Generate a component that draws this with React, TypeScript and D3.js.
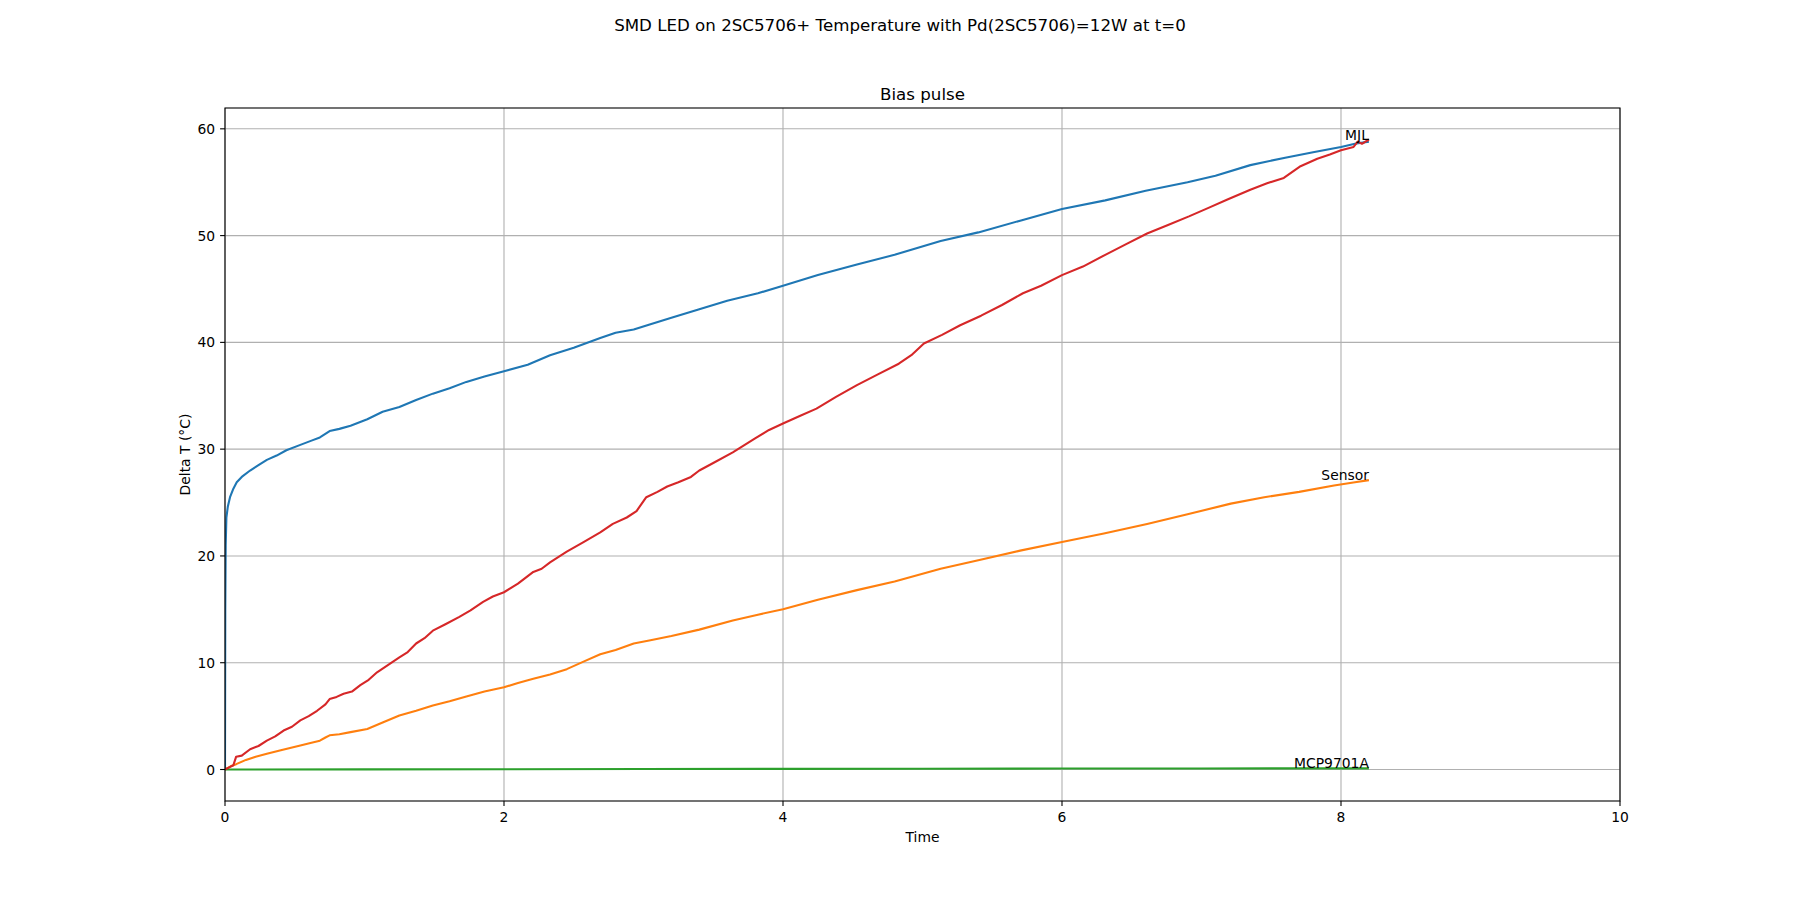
import { useEffect } from "react";
import * as d3 from "d3";

// readings, [time, delta T]
const mjlBlue: [number, number][] = [
  [0, 0], [0.002, 15], [0.005, 21], [0.01, 23.6], [0.02, 24.6], [0.036, 25.5], [0.06, 26.3],
  [0.084, 26.9], [0.12, 27.4], [0.18, 28.0], [0.24, 28.5], [0.3, 29.0], [0.37, 29.4], [0.44, 29.9],
  [0.54, 30.4], [0.62, 30.8], [0.68, 31.1], [0.75, 31.7], [0.82, 31.9], [0.9, 32.2], [1.02, 32.8],
  [1.13, 33.5], [1.25, 33.95], [1.37, 34.6], [1.49, 35.2], [1.61, 35.7], [1.73, 36.3], [1.86, 36.8],
  [2.0, 37.3], [2.17, 37.9], [2.33, 38.8], [2.5, 39.5], [2.69, 40.4], [2.8, 40.9], [2.93, 41.2],
  [3.05, 41.7], [3.2, 42.3], [3.4, 43.1], [3.6, 43.9], [3.82, 44.6], [4.0, 45.3], [4.25, 46.3],
  [4.53, 47.3], [4.8, 48.2], [5.13, 49.5], [5.4, 50.3], [5.7, 51.4], [6.0, 52.5], [6.31, 53.3],
  [6.6, 54.2], [6.9, 55.0], [7.1, 55.6], [7.35, 56.6], [7.6, 57.3], [7.8, 57.8], [8.0, 58.3],
  [8.1, 58.6], [8.2, 58.8],
];

const sensorOrange: [number, number][] = [
  [0, 0], [0.04, 0.3], [0.08, 0.5], [0.15, 0.9], [0.22, 1.2], [0.3, 1.47], [0.4, 1.8], [0.54, 2.25],
  [0.62, 2.5], [0.68, 2.7], [0.72, 3.0], [0.75, 3.2], [0.82, 3.3], [0.9, 3.5], [1.02, 3.8],
  [1.13, 4.4], [1.25, 5.06], [1.37, 5.5], [1.49, 6.0], [1.61, 6.4], [1.73, 6.84], [1.86, 7.3],
  [2.0, 7.7], [2.1, 8.1], [2.21, 8.5], [2.33, 8.9], [2.45, 9.4], [2.57, 10.1], [2.69, 10.8],
  [2.8, 11.2], [2.93, 11.8], [3.05, 12.1], [3.2, 12.5], [3.4, 13.1], [3.64, 13.96], [3.82, 14.5],
  [4.0, 15.0], [4.25, 15.9], [4.53, 16.8], [4.8, 17.6], [5.13, 18.8], [5.4, 19.6], [5.7, 20.5],
  [6.0, 21.3], [6.3, 22.1], [6.61, 23.0], [6.9, 23.9], [7.21, 24.9], [7.45, 25.5], [7.7, 26.0],
  [7.95, 26.6], [8.1, 26.9], [8.2, 27.1],
];

const mcpGreen: [number, number][] = [
  [0, 0], [1, 0.01], [2, 0.03], [3, 0.04], [4, 0.06], [5, 0.07], [6, 0.09], [7, 0.1], [8.2, 0.11],
];

const redTrace: [number, number][] = [
  [0, 0], [0.03, 0.2], [0.06, 0.4], [0.08, 1.2], [0.12, 1.3], [0.18, 1.9], [0.24, 2.2], [0.3, 2.7],
  [0.36, 3.1], [0.42, 3.65], [0.48, 4.0], [0.54, 4.6], [0.6, 5.0], [0.66, 5.5], [0.72, 6.1],
  [0.75, 6.6], [0.8, 6.8], [0.85, 7.1], [0.91, 7.3], [0.97, 7.9], [1.03, 8.4], [1.09, 9.1],
  [1.17, 9.8], [1.25, 10.5], [1.31, 11.0], [1.37, 11.8], [1.43, 12.3], [1.49, 13.0], [1.58, 13.6],
  [1.68, 14.3], [1.76, 14.9], [1.85, 15.7], [1.92, 16.2], [2.0, 16.6], [2.1, 17.4], [2.21, 18.5],
  [2.27, 18.8], [2.33, 19.4], [2.45, 20.4], [2.57, 21.3], [2.69, 22.2], [2.78, 23.0], [2.88, 23.6],
  [2.95, 24.2], [3.02, 25.5], [3.1, 26.0], [3.17, 26.5], [3.25, 26.9], [3.34, 27.4], [3.4, 28.0],
  [3.5, 28.7], [3.64, 29.7], [3.8, 31.0], [3.9, 31.8], [4.0, 32.4], [4.12, 33.1], [4.24, 33.8],
  [4.38, 34.9], [4.53, 36.0], [4.68, 37.0], [4.83, 38.0], [4.92, 38.8], [5.01, 39.9], [5.14, 40.7],
  [5.27, 41.6], [5.42, 42.5], [5.57, 43.5], [5.72, 44.6], [5.85, 45.3], [6.0, 46.3], [6.15, 47.1],
  [6.31, 48.2], [6.46, 49.2], [6.61, 50.2], [6.76, 51.0], [6.91, 51.8], [7.05, 52.6], [7.19, 53.4],
  [7.35, 54.3], [7.47, 54.9], [7.59, 55.4], [7.71, 56.5], [7.83, 57.2], [7.92, 57.6], [8.0, 58.0],
  [8.09, 58.3], [8.12, 58.8], [8.15, 58.6], [8.2, 59.0],
];

const xTicks = [0, 2, 4, 6, 8, 10];
const yTicks = [0, 10, 20, 30, 40, 50, 60];

const endLabels: { text: string; series: [number, number][] }[] = [
  { text: "MJL", series: redTrace },
  { text: "Sensor", series: sensorOrange },
  { text: "MCP9701A", series: mcpGreen },
];

const W = 1800;
const H = 900;
const m = { left: 225, right: 1620, top: 108, bottom: 801 };
const font = "'DejaVu Sans', sans-serif";

export default function App() {
  useEffect(() => {
    document.body.style.margin = "0";
  }, []);

  const x = d3.scaleLinear().domain([0, 10]).range([m.left, m.right]);
  const y = d3.scaleLinear().domain([-2.95, 61.95]).range([m.bottom, m.top]);

  const line = d3
    .line<[number, number]>()
    .x((d) => x(d[0]))
    .y((d) => y(d[1]));

  // drawn in matplotlib's cycle order, red last on top
  const traces = [
    { data: mjlBlue, color: "#1f77b4" },
    { data: sensorOrange, color: "#ff7f0e" },
    { data: mcpGreen, color: "#2ca02c" },
    { data: redTrace, color: "#d62728" },
  ];

  return (
    <svg width={W} height={H} style={{ display: "block", background: "#fff" }} fontFamily={font}>
      <text x={W / 2} y={31} textAnchor="middle" fontSize={16.67}>
        SMD LED on 2SC5706+ Temperature with Pd(2SC5706)=12W at t=0
      </text>
      <text x={(m.left + m.right) / 2} y={100} textAnchor="middle" fontSize={16.67}>
        Bias pulse
      </text>

      <defs>
        <clipPath id="plot-area">
          <rect x={m.left} y={m.top} width={m.right - m.left} height={m.bottom - m.top} />
        </clipPath>
      </defs>

      {/* grid */}
      <g stroke="#b0b0b0" strokeWidth={1.1}>
        {xTicks.map((t) => (
          <line key={"gx" + t} x1={x(t)} x2={x(t)} y1={m.top} y2={m.bottom} />
        ))}
        {yTicks.map((t) => (
          <line key={"gy" + t} x1={m.left} x2={m.right} y1={y(t)} y2={y(t)} />
        ))}
      </g>

      <g clipPath="url(#plot-area)" fill="none" strokeWidth={2.1} strokeLinejoin="round">
        {traces.map((s, i) => (
          <path key={i} d={line(s.data) || ""} stroke={s.color} />
        ))}
      </g>

      {endLabels.map((l) => {
        const last = l.series[l.series.length - 1];
        return (
          <text key={l.text} x={x(last[0])} y={y(last[1])} textAnchor="end" fontSize={13.89}>
            {l.text}
          </text>
        );
      })}

      {/* spines */}
      <rect
        x={m.left}
        y={m.top}
        width={m.right - m.left}
        height={m.bottom - m.top}
        fill="none"
        stroke="#000"
        strokeWidth={1.1}
      />

      {/* x axis */}
      <g fontSize={13.89}>
        {xTicks.map((t) => (
          <g key={"xt" + t}>
            <line x1={x(t)} x2={x(t)} y1={m.bottom} y2={m.bottom + 4.9} stroke="#000" strokeWidth={1.1} />
            <text x={x(t)} y={m.bottom + 21} textAnchor="middle">
              {t}
            </text>
          </g>
        ))}
        <text x={(m.left + m.right) / 2} y={842} textAnchor="middle">
          Time
        </text>
      </g>

      {/* y axis */}
      <g fontSize={13.89}>
        {yTicks.map((t) => (
          <g key={"yt" + t}>
            <line x1={m.left - 4.9} x2={m.left} y1={y(t)} y2={y(t)} stroke="#000" strokeWidth={1.1} />
            <text x={m.left - 9.8} y={y(t)} textAnchor="end" dominantBaseline="central">
              {t}
            </text>
          </g>
        ))}
        <text
          transform={`translate(185, ${(m.top + m.bottom) / 2}) rotate(-90)`}
          textAnchor="middle"
          dominantBaseline="central"
        >
          Delta T (°C)
        </text>
      </g>
    </svg>
  );
}
